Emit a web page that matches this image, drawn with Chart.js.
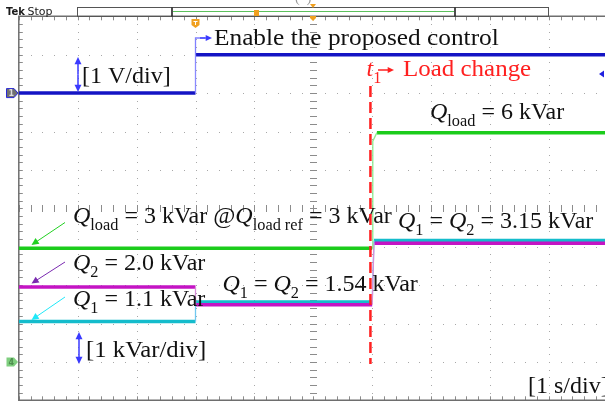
<!DOCTYPE html>
<html>
<head>
<meta charset="utf-8">
<script src="https://cdn.jsdelivr.net/npm/chart.js@4/dist/chart.umd.min.js"></script>
<style>
  html, body { margin: 0; padding: 0; background: #fff; overflow: hidden; }
  canvas { display: block; }
</style>
</head>
<body>
<canvas id="scope" width="610" height="404"></canvas>
<script>
// 1 s/div time base, 10 divisions on screen
const ctrlTime = [0, 3.0, 3.0, 10];
const ctrlVolts = [0, 0, 1.0, 1.0];          // ch1, 1 V/div

const loadTime = [0, 6.0, 6.01, 6.08, 10];
const qLoad = [2.96, 2.96, 5.75, 5.97, 5.97]; // kVar, 1 kVar/div

const dgTime = [0, 3.0, 3.0, 6.0, 6.03, 10];
const q1 = [1.05, 1.05, 1.56, 1.56, 3.16, 3.16];
const q2 = [1.95, 1.95, 1.49, 1.49, 3.09, 3.09];

const eventTimes = [3.0, 5.97];   // enable, load change
const trigLevel = 0.5;

const FONT = '"Liberation Serif", "Times New Roman", serif';

const pts = (ts, vs) => ts.map((t, i) => ({ x: t, y: vs[i] }));
const isEdge = c => Math.abs(c.p1.y - c.p0.y) > Math.abs(c.p1.x - c.p0.x);

function trace(label, ts, vs, color, axis) {
  return {
    label, data: pts(ts, vs), yAxisID: axis,
    borderColor: color, borderWidth: 3.5, pointRadius: 0, tension: 0,
    segment: { borderColor: c => isEdge(c) ? 'rgba(0,0,0,0)' : undefined }
  };
}
function edges(label, ts, vs, color, axis) {
  return {
    label: label + ' edge', data: pts(ts, vs), yAxisID: axis,
    borderColor: color, borderWidth: 1.3, pointRadius: 0, tension: 0,
    segment: { borderColor: c => isEdge(c) ? undefined : 'rgba(0,0,0,0)' }
  };
}

function arrowHead(ctx, x0, y0, x1, y1, head) {
  const a = Math.atan2(y1 - y0, x1 - x0);
  ctx.beginPath();
  ctx.moveTo(x1, y1);
  ctx.lineTo(x1 - head * Math.cos(a - 0.45), y1 - head * Math.sin(a - 0.45));
  ctx.lineTo(x1 - head * Math.cos(a + 0.45), y1 - head * Math.sin(a + 0.45));
  ctx.closePath();
  ctx.fill();
}
function arrow(ctx, x0, y0, x1, y1, color, w, head) {
  const a = Math.atan2(y1 - y0, x1 - x0);
  ctx.strokeStyle = color; ctx.fillStyle = color; ctx.lineWidth = w;
  ctx.beginPath();
  ctx.moveTo(x0, y0);
  ctx.lineTo(x1 - Math.cos(a) * head * 0.7, y1 - Math.sin(a) * head * 0.7);
  ctx.stroke();
  arrowHead(ctx, x0, y0, x1, y1, head);
}
function dblArrow(ctx, x, y0, y1, color) {
  const m = (y0 + y1) / 2;
  arrow(ctx, x, m, x, y0, color, 1.5, 8);
  arrow(ctx, x, m, x, y1, color, 1.5, 8);
}

// parts: [text, style]  style: 'i' italic, 's' subscript
function rich(ctx, x, y, parts, size, color, sx = 1) {
  let cx = 0;
  ctx.save();
  ctx.translate(x, y);
  ctx.scale(sx, 1);
  ctx.fillStyle = color;
  ctx.textBaseline = 'alphabetic';
  for (const [t, st] of parts) {
    const fs = st === 's' ? size * 0.68 : size;
    ctx.font = (st === 'i' ? 'italic ' : '') + fs + 'px ' + FONT;
    ctx.fillText(t, cx, st === 's' ? size * 0.3 : 0);
    cx += ctx.measureText(t).width;
  }
  ctx.restore();
}

const scopeGrid = {
  id: 'scopeGrid',
  beforeDatasetsDraw(chart) {
    const { ctx, chartArea: a, scales: { x, y } } = chart;
    ctx.save();
    ctx.fillStyle = '#a8a8a8';
    for (let d = 1; d < 10; d++) {
      const px = Math.round(x.getPixelForValue(d));
      for (let k = 0; k <= 50; k++) {
        ctx.fillRect(px, Math.round(y.getPixelForValue(-1 + k * 0.2)), 1, 1);
      }
    }
    for (let v = 0; v < 9; v++) {
      const py = Math.round(y.getPixelForValue(v));
      for (let k = 0; k <= 50; k++) {
        ctx.fillRect(Math.round(x.getPixelForValue(k * 0.2)), py, 1, 1);
      }
    }
    // centre cross with minor ticks
    ctx.fillStyle = '#8c8c8c';
    const cx = Math.round(x.getPixelForValue(5)), cy = Math.round(y.getPixelForValue(4));
    for (let k = 0; k <= 50; k++) {
      ctx.fillRect(cx - 3, Math.round(y.getPixelForValue(-1 + k * 0.2)), 7, 1);
      ctx.fillRect(Math.round(x.getPixelForValue(k * 0.2)), cy - 3, 1, 7);
    }
    // border ticks
    for (let k = 0; k <= 50; k++) {
      const px = Math.round(x.getPixelForValue(k * 0.2));
      ctx.fillRect(px, a.top, 1, 4);
      ctx.fillRect(px, a.bottom - 4, 1, 4);
      const py = Math.round(y.getPixelForValue(-1 + k * 0.2));
      ctx.fillRect(a.left, py, 4, 1);
    }
    ctx.strokeStyle = '#6e6e6e';
    ctx.lineWidth = 1.5;
    ctx.beginPath();
    ctx.moveTo(a.right, a.top); ctx.lineTo(a.left, a.top);
    ctx.lineTo(a.left, a.bottom); ctx.lineTo(a.right, a.bottom);
    ctx.stroke();
    ctx.restore();
  },
  afterDatasetsDraw(chart) {
    const { ctx, scales: { x, yV, y } } = chart;
    ctx.save();
    // header
    ctx.fillStyle = '#1a1a1a';
    ctx.font = 'bold 10px "DejaVu Sans", sans-serif';
    ctx.fillText('Tek', 6, 15);
    ctx.font = '11px "DejaVu Sans", sans-serif';
    ctx.fillText('Stop', 27.5, 15);
    ctx.strokeStyle = '#555'; ctx.lineWidth = 1;
    ctx.strokeRect(77.5, 7.5, 471, 9);
    ctx.strokeStyle = '#222'; ctx.lineWidth = 1.6;
    ctx.beginPath();
    ctx.moveTo(172, 7.5); ctx.lineTo(172, 16.5);
    ctx.moveTo(455, 7.5); ctx.lineTo(455, 16.5);
    ctx.stroke();
    ctx.strokeStyle = '#5cc05c'; ctx.lineWidth = 1.2;
    ctx.beginPath(); ctx.moveTo(173, 11.5); ctx.lineTo(454, 11.5); ctx.stroke();
    ctx.fillStyle = '#f0a020';
    ctx.fillRect(254, 10, 5, 6);
    const tc = Math.round(x.getPixelForValue(5));
    ctx.beginPath(); ctx.moveTo(tc - 3, 4); ctx.lineTo(tc + 3, 4); ctx.lineTo(tc, 8); ctx.fill();
    ctx.beginPath(); ctx.moveTo(tc - 3, 16); ctx.lineTo(tc + 3, 16); ctx.lineTo(tc + 3, 18); ctx.lineTo(tc, 21); ctx.lineTo(tc - 3, 18); ctx.fill();
    ctx.fillStyle = '#999';
    ctx.font = '14px ' + FONT;
    ctx.fillText('(  )', 295, 2);
    // trigger marker at enable time
    const te = x.getPixelForValue(eventTimes[0]);
    ctx.fillStyle = '#f0a020';
    ctx.beginPath(); ctx.moveTo(te - 4, 19); ctx.lineTo(te + 4, 19); ctx.lineTo(te + 4, 25); ctx.lineTo(te, 28); ctx.lineTo(te - 4, 25); ctx.fill();
    ctx.fillStyle = '#fff'; ctx.fillRect(te - 2, 21, 4, 1); ctx.fillRect(te - 0.5, 21, 1, 4);

    // channel markers
    const g1 = yV.getPixelForValue(0);
    ctx.fillStyle = '#707070'; ctx.strokeStyle = '#2828d8'; ctx.lineWidth = 1;
    ctx.beginPath(); ctx.moveTo(6.5, g1 - 4.5); ctx.lineTo(14, g1 - 4.5); ctx.lineTo(18, g1); ctx.lineTo(14, g1 + 4.5); ctx.lineTo(6.5, g1 + 4.5); ctx.closePath(); ctx.fill(); ctx.stroke();
    ctx.fillStyle = '#ddd'; ctx.font = 'bold 8px "DejaVu Sans"'; ctx.fillText('1', 8.5, g1 + 3);
    const g4 = y.getPixelForValue(0);
    ctx.fillStyle = '#7fcf7f';
    ctx.beginPath(); ctx.moveTo(6.5, g4 - 4.5); ctx.lineTo(14, g4 - 4.5); ctx.lineTo(18, g4); ctx.lineTo(14, g4 + 4.5); ctx.lineTo(6.5, g4 + 4.5); ctx.closePath(); ctx.fill();
    ctx.fillStyle = '#4f8f4f'; ctx.fillText('4', 8.5, g4 + 3);
    const tl = yV.getPixelForValue(trigLevel);
    ctx.fillStyle = '#2020e0';
    ctx.beginPath(); ctx.moveTo(599, tl); ctx.lineTo(604, tl - 3.5); ctx.lineTo(604, tl + 3.5); ctx.fill();

    // enable arrow + text
    const blue = '#3a3aff';
    ctx.strokeStyle = '#8080ff'; ctx.lineWidth = 1.3;
    ctx.beginPath(); ctx.moveTo(te, yV.getPixelForValue(1)); ctx.lineTo(te, 38); ctx.lineTo(205, 38); ctx.stroke();
    arrow(ctx, 200, 38, 212, 38, blue, 1.3, 7);
    rich(ctx, 214, 44.5, [['Enable the proposed control', '']], 24, '#111', 1.055);

    dblArrow(ctx, 78, 57, 92, blue);
    rich(ctx, 82, 83, [['[1 V/div]', '']], 24, '#111');

    // load change label
    const red = '#ff2020';
    rich(ctx, 366.5, 76, [['t', 'i'], ['1', 's']], 24, red);
    arrow(ctx, 378, 70, 394, 70, red, 1.5, 7);
    rich(ctx, 403, 76, [['Load change', '']], 24, red, 1.04);

    rich(ctx, 430, 118.5, [['Q', 'i'], ['load', 's'], [' = 6 kVar', '']], 24, '#111');
    rich(ctx, 73, 222.5, [['Q', 'i'], ['load', 's'], [' = 3 kVar @', ''], ['Q', 'i'], ['load ref', 's'], [' = 3 kVar', '']], 24, '#111');
    rich(ctx, 398, 227.5, [['Q', 'i'], ['1', 's'], [' = ', ''], ['Q', 'i'], ['2', 's'], [' = 3.15 kVar', '']], 24, '#111');
    rich(ctx, 73, 270, [['Q', 'i'], ['2', 's'], [' = 2.0 kVar', '']], 24, '#111');
    rich(ctx, 222.5, 290.5, [['Q', 'i'], ['1', 's'], [' = ', ''], ['Q', 'i'], ['2', 's'], [' = 1.54 kVar', '']], 24, '#111');
    rich(ctx, 73, 306, [['Q', 'i'], ['1', 's'], [' = 1.1 kVar', '']], 24, '#111');

    arrow(ctx, 65, 222.5, 31.5, 245, '#22d022', 1, 8);
    arrow(ctx, 65, 262, 31.5, 283.5, '#7a2ab0', 1, 8);
    arrow(ctx, 65, 297, 31.5, 320, '#20e8f8', 1, 8);

    dblArrow(ctx, 79, 332, 364, blue);
    rich(ctx, 86, 356.5, [['[1 kVar/div]', '']], 24, '#111', 1.03);
    rich(ctx, 528, 392.5, [['[1 s/div]', '']], 24, '#111');

    // load change marker
    const tlc = x.getPixelForValue(eventTimes[1]);
    ctx.strokeStyle = red; ctx.lineWidth = 2.5; ctx.setLineDash([11, 5]);
    ctx.beginPath(); ctx.moveTo(tlc, 86); ctx.lineTo(tlc, 364); ctx.stroke();
    ctx.restore();
  }
};

new Chart(document.getElementById('scope'), {
  type: 'line',
  data: {
    datasets: [
      edges('Vctrl', ctrlTime, ctrlVolts, '#8a8aff', 'yV'),
      edges('Qload', loadTime, qLoad, '#8ee88e', 'y'),
      edges('Q2', dgTime, q2, '#d890d8', 'y'),
      edges('Q1', dgTime, q1, '#70c8f0', 'y'),
      trace('Vctrl', ctrlTime, ctrlVolts, '#1414c4', 'yV'),
      trace('Qload', loadTime, qLoad, '#1ccc1c', 'y'),
      trace('Q2', dgTime, q2, '#c414c4', 'y'),
      trace('Q1', dgTime, q1, '#14bccc', 'y')
    ]
  },
  options: {
    responsive: false,
    devicePixelRatio: 1,
    animation: false,
    layout: { padding: { left: 18.8, top: 16.3, right: 2.2, bottom: 3.7 } },
    plugins: { legend: { display: false }, tooltip: { enabled: false } },
    scales: {
      x: { type: 'linear', min: 0, max: 10, display: false },
      y: { type: 'linear', min: -1, max: 9, display: false },
      yV: { type: 'linear', min: -8, max: 2, display: false }
    }
  },
  plugins: [scopeGrid]
});
</script>
</body>
</html>
